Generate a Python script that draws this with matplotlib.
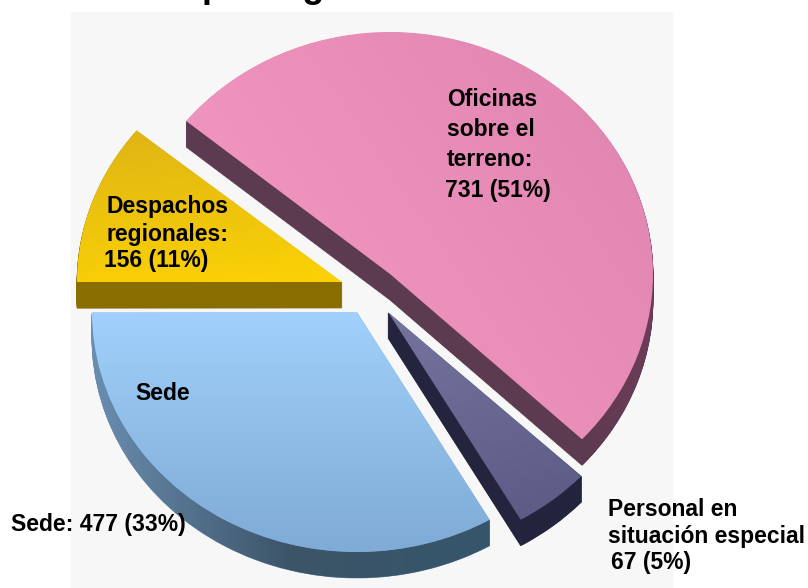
import numpy as np
import matplotlib
matplotlib.use("Agg")
import matplotlib.pyplot as plt
from matplotlib.patches import Wedge, Rectangle, Polygon
from matplotlib.colors import LinearSegmentedColormap
from matplotlib.transforms import Affine2D

plt.rcParams["font.family"] = ["Liberation Sans", "DejaVu Sans"]

# data
categories = ["Oficinas sobre el terreno", "Personal en situación especial", "Sede", "Despachos regionales"]
values = [731, 67, 477, 156]
start_angle = 140.8

# look of the slices
centers = [(390, 274), (388, 312), (357, 312), (342, 282)]
radii = [(263, 242), (265, 240), (265, 240), (265, 240)]
top_colors = [("#f59bc6", "#df84af"), ("#74749f", "#5a5a84"), ("#a0d0fb", "#7fabd6"), ("#dfb415", "#fbd205")]
grad_dir = [(1, -0.6), (0.3, 1), (0, 1), (0.15, 1)]
side_colors = [("#5c3a50", "#6e3c58"), ("#24243e", "#24243e"),
               ("#6a8db0", "#3c5468", "#35566b"), ("#8a6d00", "#8a6d00")]
DEPTH = 26


def gradient(gdx, gdy):
    gx, gy = np.meshgrid(np.linspace(0, 1, 200), np.linspace(0, 1, 200))
    if gdy < 0:
        gy = 1 - gy
        gdy = -gdy
    return (gx * gdx + gy * gdy) / (gdx + gdy)


fig = plt.figure(figsize=(8.08, 5.88), dpi=100)
ax = fig.add_axes([0, 0, 1, 1])
ax.axis("off")

ax.add_patch(Rectangle((71, 12), 601, 576, color="#f7f7f7", zorder=0))

angles = 360 * np.array(values) / sum(values)
theta = start_angle
for i, val in enumerate(values):
    t2 = theta
    t1 = theta - angles[i]
    theta = t1
    cx, cy = centers[i]
    rx, ry = radii[i]

    # side of the slice: same wedge pushed down
    for d in range(1, DEPTH + 1):
        tr = Affine2D().scale(1, -ry / rx).translate(cx, cy + d) + ax.transData
        ax.add_patch(Wedge((0, 0), rx, t1, t2, color=side_colors[i][0], lw=0.5, transform=tr, zorder=2))

    # rim of the slice gets its own shading
    arc = np.radians(np.linspace(t1, t2, 200))
    ax_pts = cx + rx * np.cos(arc)
    ay_pts = cy - ry * np.sin(arc)
    below = ay_pts >= cy - 5
    if below.sum() > 2:
        rim_x = np.concatenate([ax_pts[below], ax_pts[below][::-1]])
        rim_y = np.concatenate([ay_pts[below], ay_pts[below][::-1] + DEPTH])
        rim = Polygon(np.column_stack([rim_x, rim_y]), fc="none", ec="none", zorder=2.5)
        ax.add_patch(rim)
        cmap = LinearSegmentedColormap.from_list("rim%d" % i, side_colors[i])
        im = ax.imshow(gradient(1, 0), cmap=cmap, aspect="auto", zorder=2.5,
                       extent=(rim_x.min(), rim_x.max(), rim_y.max(), rim_y.min()))
        im.set_clip_path(rim)

    # top of the slice with gradient
    tr = Affine2D().scale(1, -ry / rx).translate(cx, cy) + ax.transData
    top = Wedge((0, 0), rx, t1, t2, fc="none", ec="none", transform=tr, zorder=3)
    ax.add_patch(top)
    xs = np.append(ax_pts, cx)
    ys = np.append(ay_pts, cy)
    cmap = LinearSegmentedColormap.from_list("top%d" % i, top_colors[i])
    im = ax.imshow(gradient(*grad_dir[i]), cmap=cmap, aspect="auto", zorder=3,
                   extent=(xs.min(), xs.max(), ys.max(), ys.min()))
    im.set_clip_path(top)

ax.set_xlim(0, 808)
ax.set_ylim(588, 0)

fs = 16.5
ax.text(202, -3, "por lugar", fontsize=26, fontweight="bold", va="baseline", ha="left", zorder=5)
ax.text(447, 100, "Oficinas", fontsize=fs, fontweight="bold", va="center", zorder=5)
ax.text(447, 129, "sobre el", fontsize=fs, fontweight="bold", va="center", zorder=5)
ax.text(447, 159, "terreno:", fontsize=fs, fontweight="bold", va="center", zorder=5)
ax.text(445, 190, "731 (51%)", fontsize=fs, fontweight="bold", va="center", zorder=5)
ax.text(107, 207, "Despachos", fontsize=fs, fontweight="bold", va="center", zorder=5)
ax.text(107, 235, "regionales:", fontsize=fs, fontweight="bold", va="center", zorder=5)
ax.text(104, 261, "156 (11%)", fontsize=fs, fontweight="bold", va="center", zorder=5)
ax.text(135, 394, "Sede", fontsize=fs, fontweight="bold", va="center", zorder=5)
ax.text(11, 525, "Sede: 477 (33%)", fontsize=fs, fontweight="bold", va="center", zorder=5)
ax.text(608, 509, "Personal en", fontsize=fs, fontweight="bold", va="center", zorder=5)
ax.text(608, 537, "situación especial", fontsize=fs, fontweight="bold", va="center", zorder=5)
ax.text(611, 563, "67 (5%)", fontsize=fs, fontweight="bold", va="center", zorder=5)

fig.savefig("out.png", dpi=100)
